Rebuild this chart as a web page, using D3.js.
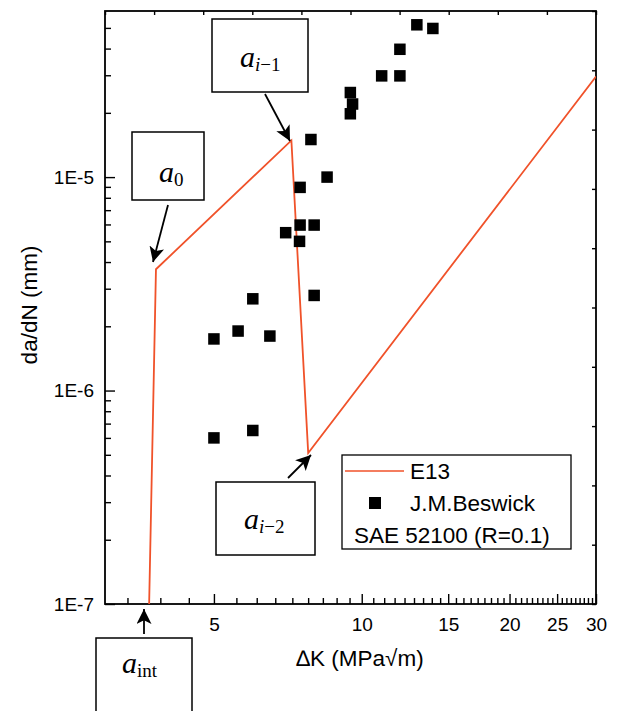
<!DOCTYPE html>
<html>
<head>
<meta charset="utf-8">
<script src="https://cdn.jsdelivr.net/npm/d3@7"></script>
<style>
  body { margin: 0; background: #fff; }
  svg { display: block; }
</style>
</head>
<body>
<div class="chart"></div>
<script>
// Data
var e13K = [3.69, 3.81, 7.19, 7.78, 30];
var e13Rate = [1e-7, 3.7e-6, 1.485e-5, 5.1e-7, 2.96e-5];

var beswickK = [12.95, 13.96, 11.96, 10.98, 11.96, 9.48, 9.58, 9.48, 7.88, 8.5, 7.49,
                7.49, 8.0, 7.0, 7.47, 6.0, 8.0, 5.6, 5.0, 6.5, 5.0, 6.0];
var beswickRate = [5.17e-5, 4.97e-5, 3.97e-5, 2.98e-5, 2.98e-5, 2.49e-5, 2.2e-5, 1.98e-5, 1.5e-5, 1.0e-5, 8.95e-6,
                   5.96e-6, 5.96e-6, 5.49e-6, 5.0e-6, 2.69e-6, 2.79e-6, 1.9e-6, 1.745e-6, 1.8e-6, 6.0e-7, 6.5e-7];

var xTickLabels = [5, 10, 15, 20, 25, 30];
var yTickLabels = [1e-7, 1e-6, 1e-5];
var legendLabels = ["E13", "J.M.Beswick", "SAE 52100 (R=0.1)"];

var lineColor = "#f0522a";

// Svg container
var W = 621, H = 711;
var margin = {left: 105, top: 11, right: 25, bottom: 107};

var svg = d3.select(".chart").append("svg")
            .attr("width", W)
            .attr("height", H);

var x = d3.scaleLog().domain([3, 30]).range([margin.left, W - margin.right]);
var y = d3.scaleLog().domain([1e-7, 6e-5]).range([H - margin.bottom, margin.top]);

var x0 = margin.left, x1 = W - margin.right, y0 = H - margin.bottom, y1 = margin.top;

// Minor ticks: 8 per major step on x, 2..9 per decade on y
var xMinor = [];
[0, 5, 10, 15, 20, 25].forEach(function(m) {
  d3.range(1, 9).forEach(function(j) {
    var v = m + j * 5 / 9;
    if (v > 3) xMinor.push(v);
  });
});
var yMinor = [];
[1e-7, 1e-6, 1e-5].forEach(function(d) {
  d3.range(2, 10).forEach(function(j) {
    if (d * j <= 6e-5) yMinor.push(d * j);
  });
});

var font = "'Liberation Sans', Arial, sans-serif";

// Bottom axis
svg.append("g")
   .attr("transform", "translate(0," + y0 + ")")
   .call(d3.axisBottom(x).tickValues(xMinor).tickSize(-6).tickFormat(""))
   .call(function(g) { g.select(".domain").remove(); });

svg.append("g")
   .attr("transform", "translate(0," + y0 + ")")
   .call(d3.axisBottom(x).tickValues(xTickLabels).tickSize(-10).tickPadding(14).tickFormat(d3.format("d")))
   .call(function(g) { g.select(".domain").remove(); })
   .selectAll("text")
   .style("font-family", font)
   .style("font-size", "19px")
   .attr("fill", "#000");

// Left axis
svg.append("g")
   .attr("transform", "translate(" + x0 + ",0)")
   .call(d3.axisLeft(y).tickValues(yMinor).tickSize(-6).tickFormat(""))
   .call(function(g) { g.select(".domain").remove(); });

svg.append("g")
   .attr("transform", "translate(" + x0 + ",0)")
   .call(d3.axisLeft(y).tickValues(yTickLabels).tickSize(-10).tickPadding(11)
           .tickFormat(function(d) { return "1E" + Math.round(Math.log10(d)); }))
   .call(function(g) { g.select(".domain").remove(); })
   .selectAll("text")
   .style("font-family", font)
   .style("font-size", "19px")
   .attr("fill", "#000");

// Top and right axes: plain linear ticks
var xTop = d3.scaleLinear().domain([0, 10]).range([x0, x1]);
var yRight = d3.scaleLinear().domain([0, 10]).range([y0, y1]);

svg.append("g")
   .attr("transform", "translate(0," + y1 + ")")
   .call(d3.axisTop(xTop).ticks(10).tickSize(-4).tickFormat(""))
   .call(function(g) { g.select(".domain").remove(); });

svg.append("g")
   .attr("transform", "translate(" + x1 + ",0)")
   .call(d3.axisRight(yRight).ticks(10).tickSize(-4).tickFormat(""))
   .call(function(g) { g.select(".domain").remove(); });

svg.selectAll(".tick line").attr("stroke", "#000").attr("stroke-width", 1.4);

// Frame
svg.append("rect")
   .attr("x", x0).attr("y", y1)
   .attr("width", x1 - x0).attr("height", y0 - y1)
   .attr("fill", "none")
   .attr("stroke", "#000")
   .attr("stroke-width", 1.8);

// Axis titles
svg.append("text")
   .attr("x", 360).attr("y", 666)
   .attr("text-anchor", "middle")
   .style("font-family", font)
   .style("font-size", "22.5px")
   .text("\u2206K (MPa\u221Am)");

svg.append("text")
   .attr("transform", "translate(37,305) rotate(-90)")
   .attr("text-anchor", "middle")
   .style("font-family", font)
   .style("font-size", "22.5px")
   .text("da/dN (mm)");

// E13 curve
var e13 = e13K.map(function(k, i) { return [k, e13Rate[i]]; });
svg.append("clipPath").attr("id", "plot")
   .append("rect").attr("x", x0).attr("y", y1).attr("width", x1 - x0).attr("height", y0 - y1);

svg.append("path")
   .datum(e13)
   .attr("clip-path", "url(#plot)")
   .attr("fill", "none")
   .attr("stroke", lineColor)
   .attr("stroke-width", 1.8)
   .attr("d", d3.line().x(function(d) { return x(d[0]); }).y(function(d) { return y(d[1]); }));

// Beswick points
var sq = 11.5;
svg.selectAll(".pt")
   .data(beswickK.map(function(k, i) { return [k, beswickRate[i]]; }))
   .enter().append("rect")
   .attr("class", "pt")
   .attr("x", function(d) { return x(d[0]) - sq / 2; })
   .attr("y", function(d) { return y(d[1]) - sq / 2; })
   .attr("width", sq).attr("height", sq)
   .attr("fill", "#000");

// Arrow marker
svg.append("defs").append("marker")
   .attr("id", "head")
   .attr("viewBox", "0 0 10 10")
   .attr("refX", 10).attr("refY", 5)
   .attr("markerUnits", "userSpaceOnUse")
   .attr("markerWidth", 17).attr("markerHeight", 15)
   .attr("orient", "auto")
   .append("path")
   .attr("d", "M0,0 L10,5 L0,10 L2.5,5 z")
   .attr("fill", "#000");

// Annotation boxes
var notes = [
  {box: [212, 19, 96, 73], tx: 240, ty: 67, sub: [["i", true], ["\u22121", false]], from: [265, 94], to: [290, 141]},
  {box: [132, 132, 72, 68], tx: 159, ty: 182, sub: [["0", false]], from: [168, 205], to: [153, 262]},
  {box: [216, 482, 99, 73], tx: 244, ty: 529, sub: [["i", true], ["\u22122", false]], from: [288, 478], to: [311, 455]},
  {box: [96, 638, 96, 74], tx: 122, ty: 673, sub: [["int", false]], from: [144, 634], to: [144, 609]}
];

notes.forEach(function(n) {
  svg.append("rect")
     .attr("x", n.box[0]).attr("y", n.box[1])
     .attr("width", n.box[2]).attr("height", n.box[3])
     .attr("fill", "#fff")
     .attr("stroke", "#000")
     .attr("stroke-width", 1.5);

  var t = svg.append("text")
             .attr("x", n.tx).attr("y", n.ty)
             .style("font-family", "'Liberation Serif', 'Times New Roman', serif");
  t.append("tspan")
   .style("font-size", "30px")
   .style("font-style", "italic")
   .text("a");
  n.sub.forEach(function(s, i) {
    var ts = t.append("tspan")
              .style("font-size", "19px")
              .style("font-style", s[1] ? "italic" : "normal")
              .text(s[0]);
    if (i === 0) ts.attr("dy", 4);
  });

  svg.append("line")
     .attr("x1", n.from[0]).attr("y1", n.from[1])
     .attr("x2", n.to[0]).attr("y2", n.to[1])
     .attr("stroke", "#000")
     .attr("stroke-width", 1.8)
     .attr("marker-end", "url(#head)");
});

// Legend
var lg = svg.append("g");
lg.append("rect")
  .attr("x", 342).attr("y", 455)
  .attr("width", 229).attr("height", 94)
  .attr("fill", "#fff")
  .attr("stroke", "#000")
  .attr("stroke-width", 1.3);

lg.append("line")
  .attr("x1", 345).attr("x2", 404)
  .attr("y1", 471).attr("y2", 471)
  .attr("stroke", lineColor)
  .attr("stroke-width", 1.6);

lg.append("rect")
  .attr("x", 375 - 6).attr("y", 503 - 6)
  .attr("width", 12).attr("height", 12)
  .attr("fill", "#000");

lg.selectAll(".lt")
  .data(legendLabels)
  .enter().append("text")
  .attr("x", function(d, i) { return i < 2 ? 410 : 354; })
  .attr("y", function(d, i) { return [479, 511, 543][i]; })
  .style("font-family", font)
  .style("font-size", "22.5px")
  .text(function(d) { return d; });
</script>
</body>
</html>
